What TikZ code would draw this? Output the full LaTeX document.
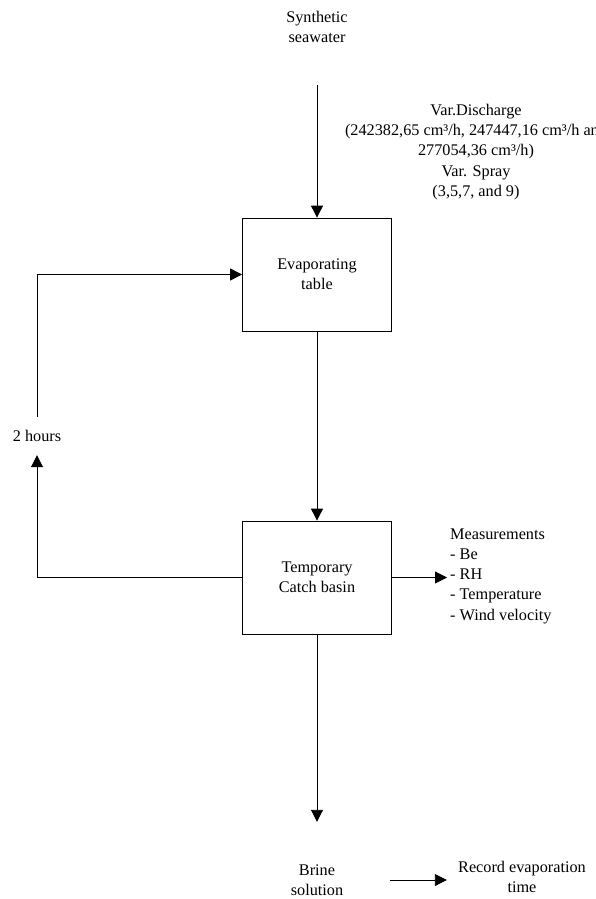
\documentclass[tikz,border=0pt]{standalone}
\usepackage{fontspec}
\setmainfont{Liberation Serif}
\usetikzlibrary{arrows.meta,positioning}

\begin{document}
\begin{tikzpicture}[x=1bp,y=-1bp,
    every node/.style={font=\fontsize{16.3}{20.3}\selectfont,align=center,inner sep=0pt},
    procbox/.style={draw,line width=0.8bp,minimum width=149bp,minimum height=113bp},
    flow/.style={line width=0.9bp,-{Triangle[length=12bp,width=12bp]}}]
  \useasboundingbox (0,0) rectangle (596,899);
  \clip (0,0) rectangle (596,899);

  %% Feed and settings
  \node[minimum height=116bp] (feed) at (317,27) {Synthetic\\seawater};
  \node (discharge) at (476,152) {Var.Discharge\\(242382,65 cm³/h, 247447,16 cm³/h and\\277054,36 cm³/h)\\Var. Spray\\(3,5,7, and 9)};

  %% Process boxes
  \node[procbox] (table) at (317,274.5) {Evaporating\\table};
  \node[procbox] (basin) at (317,577.5) {Temporary\\Catch basin};

  %% Return loop label
  \node[minimum height=38bp] (hours) at (37,436) {2 hours};

  %% Measurements list
  \node[anchor=west,align=left,inner sep=3bp] (measure) at (447,576)
       {Measurements\\- Be\\- RH\\- Temperature\\- Wind velocity};

  %% Outputs
  \node[minimum height=116bp,minimum width=146bp] (brine) at (317,880) {Brine\\solution};
  \node[minimum width=150bp] (record) at (522,877) {Record evaporation\\time};

  %% Connectors
  \draw[flow] (feed.south) -- (table.north);
  \draw[flow] (table.south) -- (basin.north);
  \draw[flow] (basin.west) -| (hours.south);
  \draw[flow] (hours.north) |- (table.west);
  \draw[flow] (basin.east) -- (basin.east -| measure.west);
  \draw[flow] (basin.south) -- (brine.north);
  \draw[flow] (brine.east |- 0,880) -- (record.west |- 0,880);
\end{tikzpicture}
\end{document}
